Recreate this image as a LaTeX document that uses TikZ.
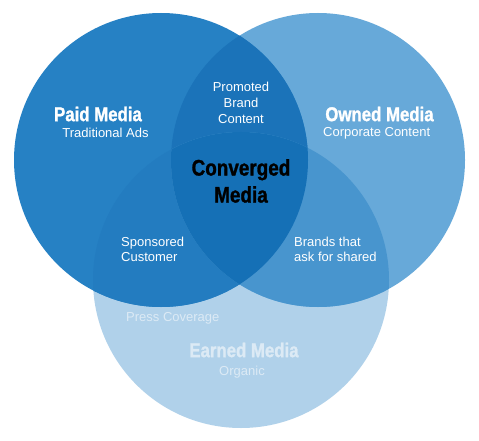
\documentclass[tikz,border=0pt]{standalone}
\usepackage{fontspec}
\setmainfont{Liberation Sans}
\newfontfamily\condbold[FakeStretch=0.84,FakeBold=1.2]{Liberation Sans Bold}
\definecolor{cP}{HTML}{2681C4}
\definecolor{cO}{HTML}{67A9D9}
\definecolor{cE}{HTML}{B0D1EA}
\definecolor{cPO}{HTML}{1B73B9}
\definecolor{cPE}{HTML}{237CC0}
\definecolor{cOE}{HTML}{4895CE}
\definecolor{cPOE}{HTML}{1570B6}
\definecolor{faint}{HTML}{DCEAF5}
\tikzset{
  title/.style={font=\condbold\fontsize{20}{20}\selectfont, text=white, inner sep=0pt},
  sub/.style={font=\fontsize{13}{16}\selectfont, text=white, inner sep=0pt, align=center},
  subl/.style={font=\fontsize{13}{15.5}\selectfont, text=white, inner sep=0pt, align=left},
  conv/.style={font=\condbold\fontsize{22.5}{27}\selectfont, text=black, inner sep=0pt, align=center},
}
\begin{document}
\begin{tikzpicture}[x=1pt,y=-1pt]
\useasboundingbox (0,0) rectangle (479,441);
\fill[white] (0,0) rectangle (479,441);
\def\Pc{(161,160) circle (147)}
\def\Oc{(318,160) circle (147)}
\def\Ec{(241,280) circle (148)}
\fill[cE] \Ec;
\fill[cO] \Oc;
\fill[cP] \Pc;
\begin{scope}\clip \Pc; \fill[cPO] \Oc; \end{scope}
\begin{scope}\clip \Pc; \fill[cPE] \Ec; \end{scope}
\begin{scope}\clip \Oc; \fill[cOE] \Ec; \end{scope}
\begin{scope}\clip \Pc; \clip \Oc; \fill[cPOE] \Ec; \end{scope}

\node[title] (paid) at (98,114) {Paid Media};
\node[sub] (trad) at (105.5,133) {Traditional Ads};
\node[title] (owned) at (379.5,114) {Owned Media};
\node[sub] (corp) at (376.7,133) {Corporate Content};
\node[sub] (prom) at (241,103) {Promoted\\Brand\\Content};
\node[conv] (conv) at (241,181) {Converged\\Media};
\node[subl, anchor=west] (spon) at (121,249.5) {Sponsored\\Customer};
\node[subl, anchor=west] (brands) at (294,249.5) {Brands that\\ask for shared};
\node[sub, anchor=west, text=faint] (press) at (126,318) {Press Coverage};
\node[title, text=faint] (earned) at (244,350) {Earned Media};
\node[sub, text=faint] (org) at (242,372) {Organic};
\end{tikzpicture}
\end{document}
